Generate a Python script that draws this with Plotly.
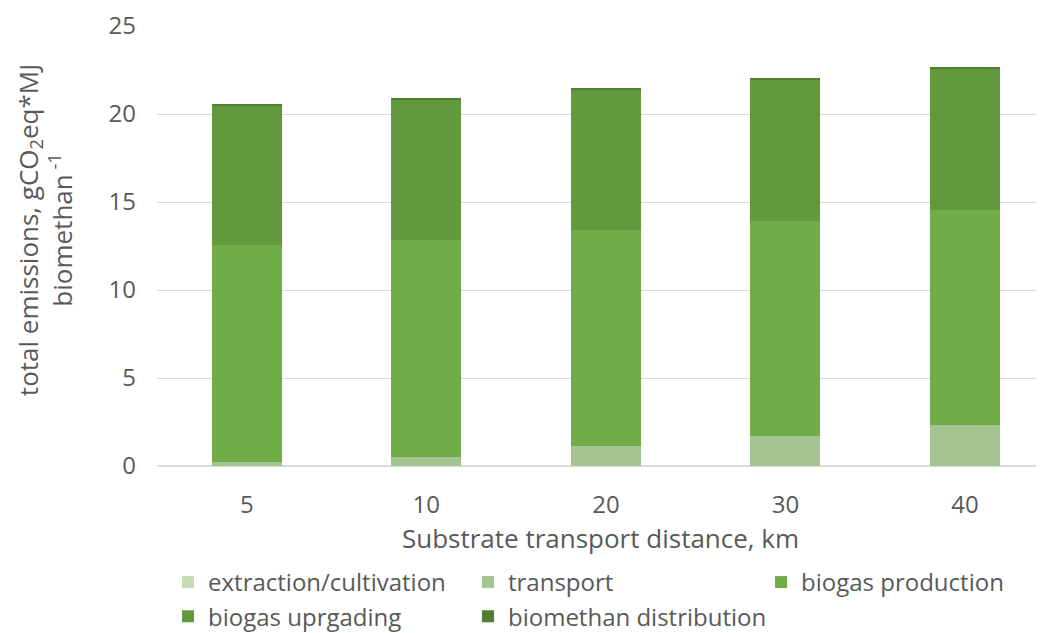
import plotly.graph_objects as go

categories = ["5", "10", "20", "30", "40"]
extraction = [0.0, 0.0, 0.0, 0.0, 0.0]
transport = [0.23, 0.5, 1.14, 1.7, 2.32]
biogas_production = [12.35, 12.32, 12.25, 12.22, 12.22]
biogas_upgrading = [7.88, 7.96, 7.98, 8.02, 8.03]
distribution = [0.12, 0.12, 0.12, 0.12, 0.12]

series = [
    ("extraction/cultivation", extraction, "#c5dcb6", "legend"),
    ("transport", transport, "#a4c492", "legend2"),
    ("biogas production", biogas_production, "#70ad47", "legend3"),
    ("biogas uprgading", biogas_upgrading, "#63993d", "legend"),
    ("biomethan distribution", distribution, "#4f7f30", "legend2"),
]

font_family = "Open Sans, sans-serif"
fig = go.Figure()
for name, vals, col, lg in series:
    fig.add_trace(go.Bar(x=categories, y=vals, name=name, legend=lg, legendgroup=name,
                         marker=dict(color=col, line=dict(width=0))))

legend_common = dict(orientation="v", xref="container", yref="container", xanchor="left",
                     y=0.128, yanchor="top", font=dict(size=24), traceorder="normal",
                     itemwidth=30, tracegroupgap=3, bgcolor="rgba(0,0,0,0)")

fig.update_layout(
    barmode="stack",
    bargap=0.61,
    width=1044, height=633,
    margin=dict(l=149, r=8, t=18, b=175, autoexpand=False),
    paper_bgcolor="white", plot_bgcolor="white",
    font=dict(family=font_family, size=24, color="#595959"),
    xaxis=dict(type="category", range=[-0.5, 4.44], showgrid=False, ticks="", automargin=False,
               tickfont=dict(size=24), ticklabelstandoff=22,
               title=dict(text="Substrate transport distance, km", font=dict(size=26), standoff=0)),
    yaxis=dict(range=[0, 25], dtick=5, gridcolor="#d9d9d9", gridwidth=1, zeroline=True,
               zerolinecolor="#d9d9d9", zerolinewidth=1.5, ticks="", automargin=False,
               tickfont=dict(size=24), ticklabelstandoff=20),
    legend=dict(x=0.1533, **legend_common),
    legend2=dict(x=0.4406, **legend_common),
    legend3=dict(x=0.7213, **legend_common),
    showlegend=True,
    annotations=[dict(
        text="total emissions, gCO<sub>2</sub>eq*MJ<br>biomethan<sup> -1</sup>",
        xref="paper", yref="paper", x=-0.1263, y=0.536, xanchor="center", yanchor="middle",
        textangle=-90, showarrow=False, font=dict(size=26, color="#595959"))],
)
fig.write_html("out.html")
